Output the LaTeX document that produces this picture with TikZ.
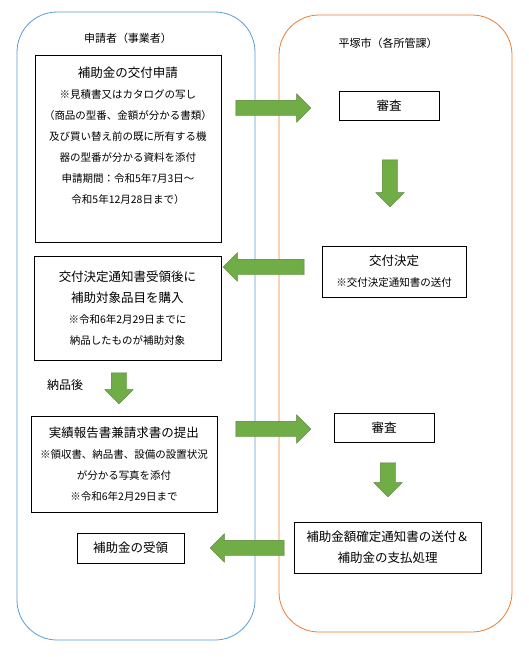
\documentclass[tikz,border=0pt]{standalone}
\usepackage{fontspec}
\setmainfont{Noto Sans CJK JP}
\usetikzlibrary{shapes.arrows}
\definecolor{laneblue}{HTML}{5B9BD5}
\definecolor{laneorange}{HTML}{ED7D31}
\definecolor{agreen}{HTML}{70AD47}
\definecolor{agreenline}{HTML}{548235}
\newcommand{\ttl}{\fontsize{12.5}{21}\selectfont}
\newcommand{\sml}{\fontsize{10.5}{21}\selectfont}
\tikzset{
  lane/.style={line width=0.8pt, rounded corners=40pt},
  lanetitle/.style={font=\fontsize{11}{14}\selectfont},
  box/.style={draw=black, line width=0.8pt, inner sep=0pt, align=center, font=\ttl},
  garrow/.style={single arrow, fill=agreen, draw=agreenline, line width=0.4pt,
    single arrow head extend=6.5pt, single arrow head indent=0pt,
    inner xsep=0pt, inner ysep=7.5pt}
}
\newcommand{\BlockArrow}[5]{% name, x, y, direction, length
  \node (#1) [garrow, rotate=#4, minimum height=#5pt] at (#2,#3) {};
}

\begin{document}
\begin{tikzpicture}[x=1pt, y=-1pt]
  \useasboundingbox (0,0) rectangle (529,657);
  % lanes
  \draw[lane, draw=laneblue] (17,12) rectangle (255,640);
  \draw[lane, draw=laneorange] (279,15) rectangle (512,632);
  \node[lanetitle] (applicant) at (128,38) {申請者（事業者）};
  \node[lanetitle] (city) at (388,43) {平塚市（各所管課）};
  % applicant side
  \node (apply) [box, minimum width=186pt, minimum height=187pt] at (128,148.5) {};
  \node (applytext) [align=center, inner sep=0pt, font=\sml] at (128,135.5)
    {{\ttl 補助金の交付申請}\\ ※見積書又はカタログの写し\\ （商品の型番、金額が分かる書類）\\
     及び買い替え前の既に所有する機\\ 器の型番が分かる資料を添付\\
     申請期間：令和5年7月3日～\\ 令和5年12月28日まで）};
  \node (buy) [box, minimum width=187pt, minimum height=104pt] at (127.5,308)
    {交付決定通知書受領後に\\ 補助対象品目を購入\\ {\sml ※令和6年2月29日までに}\\ {\sml 納品したものが補助対象}};
  \node (delivered) [font=\fontsize{12}{14}\selectfont] at (65,385) {納品後};
  \node (report) [box, minimum width=186pt, minimum height=96pt] at (124,464)
    {実績報告書兼請求書の提出\\ {\sml ※領収書、納品書、設備の設置状況}\\ {\sml が分かる写真を添付}\\ {\sml ※令和6年2月29日まで}};
  \node (receive) [box, minimum width=107pt, minimum height=30pt] at (130.5,548) {補助金の受領};
  % city side
  \node (check1) [box, minimum width=100pt, minimum height=29pt] at (389,105.5) {審査};
  \node (decide) [box, minimum width=144pt, minimum height=51pt] at (394,271.5)
    {交付決定\\ {\sml ※交付決定通知書の送付}};
  \node (check2) [box, minimum width=100pt, minimum height=29pt] at (384,427.5) {審査};
  \node (settle) [box, minimum width=187pt, minimum height=51pt] at (387.5,547.5)
    {補助金額確定通知書の送付＆\\ 補助金の支払処理};
  % block arrows
  \BlockArrow{a1}{269.5}{108}{0}{75}
  \BlockArrow{a2}{390}{179.5}{270}{47}
  \BlockArrow{a3}{267.5}{267}{180}{81}
  \BlockArrow{a4}{119}{384.5}{270}{31}
  \BlockArrow{a5}{269.5}{429}{0}{75}
  \BlockArrow{a6}{388}{476}{270}{34}
  \BlockArrow{a7}{251}{548}{180}{74}
\end{tikzpicture}
\end{document}
